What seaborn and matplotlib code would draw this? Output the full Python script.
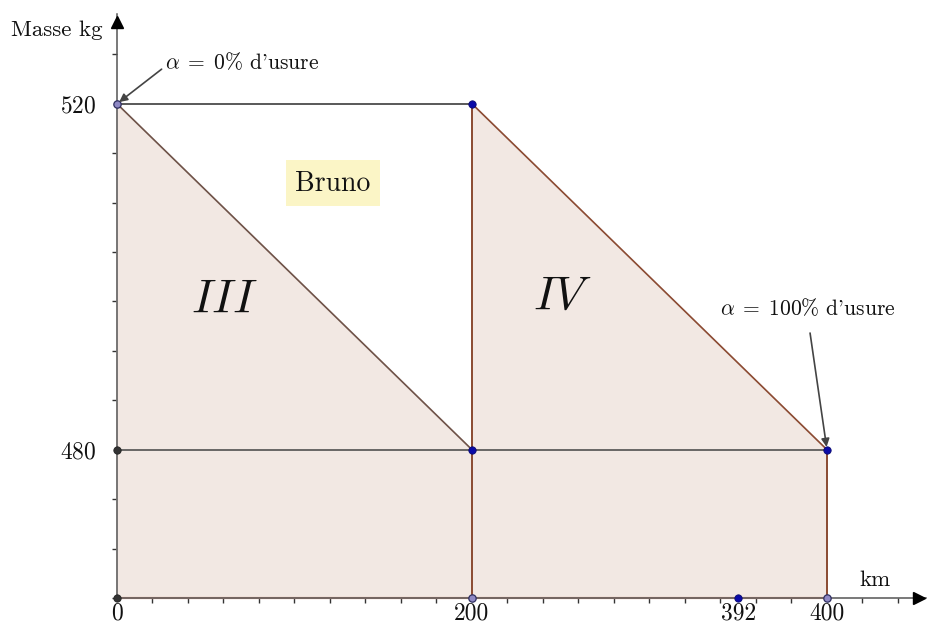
import numpy as np
import pandas as pd
import matplotlib.pyplot as plt
import seaborn as sns
from matplotlib.ticker import FixedLocator

# Données du schéma
km = [0, 200, 400]              # début, milieu, fin
masse = [520, 480]              # masse neuve, masse usée
pos_392 = 350                   # position du point marqué 392 sur le dessin
label_392 = '392'
y_min = 480 - 3 * 40 / 7        # origine de l'axe vertical

x_ticks = [km[0], km[1], pos_392, km[2]]
x_tick_labels = ['0', '200', label_392, '400']
y_ticks = masse

sns.set_theme(style='white')
plt.rcParams['font.family'] = ['cmr10', 'DejaVu Serif']
plt.rcParams['mathtext.fontset'] = 'cm'
plt.rcParams['axes.formatter.use_mathtext'] = True

fig = plt.figure(figsize=(9.31, 6.27), dpi=100)
ax = fig.add_axes([0, 0, 1, 1])
ax.set_xlim(-65.9, 458.6)
ax.set_ylim(459.5, 532.0)

fill_col = '#f2e8e3'
brown = '#8b4a32'

# ===============================
# Zones III et IV
# ===============================
zone3 = pd.DataFrame({'x': [km[0], km[0], km[1], km[1]],
                      'y': [y_min, masse[0], masse[1], y_min]})
zone4 = pd.DataFrame({'x': [km[1], km[1], km[2], km[2]],
                      'y': [y_min, masse[0], masse[1], y_min]})
ax.fill(zone3['x'], zone3['y'], color=fill_col, zorder=1)
ax.fill(zone4['x'], zone4['y'], color=fill_col, zorder=1)

# bords
ax.plot([km[0], km[1]], [masse[0], masse[1]], color='#6e5248', lw=1.2, zorder=2)
ax.plot([km[1], km[2]], [masse[0], masse[1]], color=brown, lw=1.2, zorder=2)
ax.plot([km[1], km[1]], [y_min, masse[0]], color=brown, lw=1.4, zorder=2)
ax.plot([km[2], km[2]], [y_min, masse[1]], color=brown, lw=1.4, zorder=2)
ax.plot([km[0], km[2]], [y_min, y_min], color='#e2a090', lw=1.6, zorder=2)

# horizontales
ax.plot([km[0], km[1]], [masse[0], masse[0]], color='#3c3c3c', lw=1.2, zorder=3)
ax.plot([km[0], km[2]], [masse[1], masse[1]], color='#505050', lw=1.2, zorder=3)

# ===============================
# Axes avec flèches
# ===============================
ax.spines['top'].set_visible(False)
ax.spines['right'].set_visible(False)
ax.spines['left'].set_position(('data', 0))
ax.spines['bottom'].set_position(('data', y_min))
ax.spines['left'].set_bounds(y_min, 530.4)
ax.spines['bottom'].set_bounds(0, 456)
for s in ['left', 'bottom']:
    ax.spines[s].set_color('#555555')
    ax.spines[s].set_linewidth(1.1)
    ax.spines[s].set_zorder(2.5)
ax.plot(0, 529.4, marker='^', color='black', ms=9, clip_on=False, zorder=5)
ax.plot(452, y_min, marker='>', color='black', ms=9, clip_on=False, zorder=5)

ax.set_xticks(x_ticks)
ax.set_xticklabels(x_tick_labels)
ax.set_yticks(y_ticks)
ax.xaxis.set_minor_locator(FixedLocator(np.arange(0, 460, 20)))
ax.yaxis.set_minor_locator(FixedLocator(480 + 40 / 7 * np.arange(-3, 9)))
ax.tick_params(which='both', bottom=True, left=True)
ax.tick_params(which='major', length=0, labelsize=17, colors='#111111')
ax.tick_params(axis='x', which='major', pad=3)
ax.tick_params(axis='y', which='major', pad=15)
ax.tick_params(which='minor', length=3.5, width=1, direction='out', color='#333333')

ax.text(57 / 931, 1 - 30 / 627, 'Masse kg', transform=ax.transAxes, fontsize=16.5,
        ha='center', va='center', color='#111111')
ax.text(875 / 931, 1 - 580 / 627, 'km', transform=ax.transAxes, fontsize=16.5,
        ha='center', va='center', color='#111111')

# ===============================
# Points
# ===============================
pts_bleus = pd.DataFrame({'x': [km[1], km[1], km[2], pos_392],
                          'y': [masse[0], masse[1], masse[1], y_min]})
pts_gris = pd.DataFrame({'x': [km[0], km[0]], 'y': [masse[1], y_min]})
pts_ouverts = pd.DataFrame({'x': [km[0], km[1], km[2]],
                            'y': [masse[0], y_min, y_min]})
sns.scatterplot(data=pts_bleus, x='x', y='y', color='#0a0aa8', s=28,
                edgecolor='#0a0a70', linewidth=0.6, zorder=6, ax=ax, clip_on=False)
sns.scatterplot(data=pts_gris, x='x', y='y', color='#333333', s=28,
                edgecolor='#222222', linewidth=0.6, zorder=6, ax=ax, clip_on=False)
sns.scatterplot(data=pts_ouverts, x='x', y='y', color='#8e88c4', s=28,
                edgecolor='#2e2e60', linewidth=0.9, zorder=6, ax=ax, clip_on=False)
ax.set_xlabel('')
ax.set_ylabel('')

# ===============================
# Textes
# ===============================
ax.text(121.7, 510.8, 'Bruno', fontsize=20, ha='center', va='center', zorder=7,
        color='#111111',
        bbox=dict(boxstyle='square,pad=0.35', facecolor='#fbf5c6', edgecolor='none'))
ax.text(60.8, 497.3, '$III$', fontsize=34, ha='center', va='center', zorder=7,
        color='#111111')
ax.text(251.3, 497.7, '$IV$', fontsize=34, ha='center', va='center', zorder=7,
        color='#111111')

ax.annotate(r"$\alpha\;=\;0\%$ d'usure", xy=(km[0], masse[0]), xytext=(27, 524.8),
            fontsize=15.5, ha='left', va='center', zorder=7, color='#111111',
            arrowprops=dict(arrowstyle='-|>', color='#444444', lw=1.2,
                            shrinkA=0, shrinkB=2, mutation_scale=12,
                            relpos=(0, 0.3)))
ax.annotate(r"$\alpha\;=\;100\%$ d'usure", xy=(km[2], masse[1]), xytext=(389.3, 496.4),
            fontsize=15.5, ha='center', va='center', zorder=7, color='#111111',
            arrowprops=dict(arrowstyle='-|>', color='#444444', lw=1.2,
                            shrinkA=8, shrinkB=2, mutation_scale=12,
                            relpos=(0.5, 0)))

fig.savefig('out.png', dpi=100)
